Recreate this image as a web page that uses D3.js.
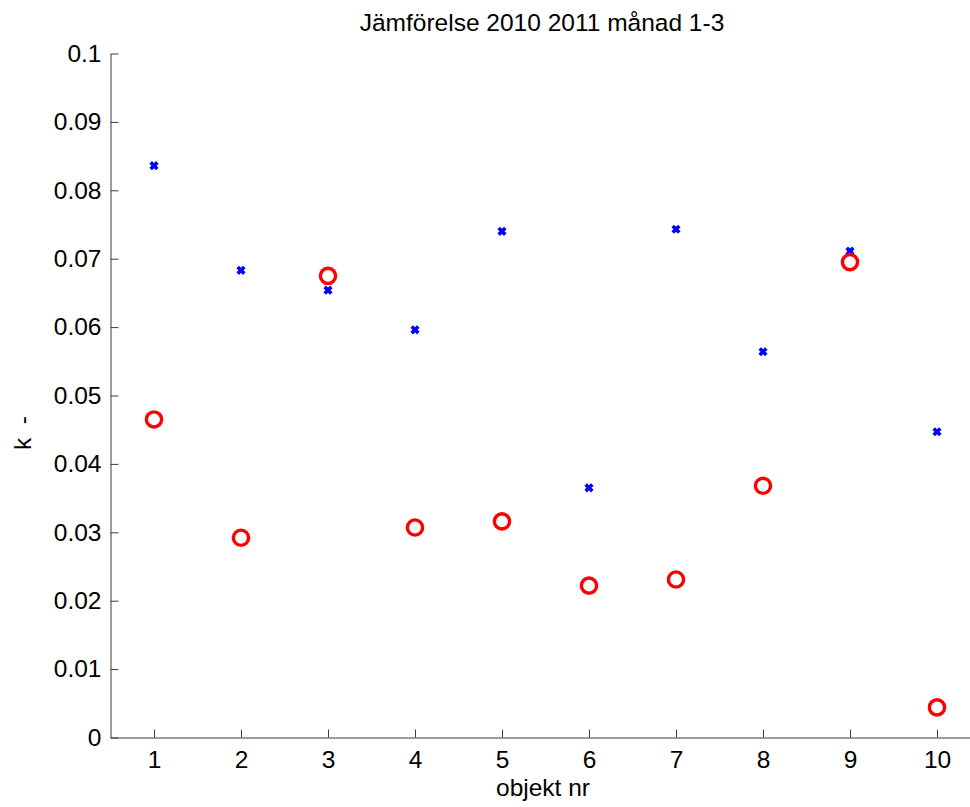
<!DOCTYPE html>
<html><head><meta charset="utf-8">
<script src="https://cdn.jsdelivr.net/npm/d3@7"></script>
<style>body{margin:0;background:#fff}svg{display:block;font-family:"Liberation Sans",Arial,sans-serif}</style>
</head><body><svg id="c" width="970" height="807"></svg>
<script>
const objekt = [1,2,3,4,5,6,7,8,9,10];
const series2010 = [0.0836,0.0683,0.0654,0.0596,0.0740,0.0365,0.0743,0.0564,0.0711,0.0447];
const series2011 = [0.0465,0.0292,0.0675,0.0307,0.0316,0.0222,0.0231,0.0368,0.0695,0.0044];
const xTicks = [1,2,3,4,5,6,7,8,9,10];
const yTicks = [0,0.01,0.02,0.03,0.04,0.05,0.06,0.07,0.08,0.09,0.1];
const yTickLabels = ["0","0.01","0.02","0.03","0.04","0.05","0.06","0.07","0.08","0.09","0.1"];

const svg = d3.select("#c");
const x = d3.scaleLinear().domain([0.5,10.5]).range([110.5,980.5]);
const y = d3.scaleLinear().domain([0,0.1]).range([737.5,53.5]);
const fs = 24.5;
const axisCol = "#3c3c3c";

const xa = svg.append("g").attr("transform","translate(0,737.5)")
  .call(d3.axisBottom(x).tickValues(xTicks).tickSize(-8).tickPadding(13).tickSizeOuter(0));
const ya = svg.append("g").attr("transform","translate(110.5,0)")
  .call(d3.axisLeft(y).tickValues(yTicks).tickFormat((d,i)=>yTickLabels[i]).tickSize(-8).tickPadding(9).tickSizeOuter(0));
[xa,ya].forEach(a=>{
  a.select(".domain").attr("stroke",axisCol).attr("stroke-width",1);
  a.selectAll(".tick line").attr("stroke",axisCol);
  a.selectAll("text").attr("fill","#000").style("font-size",fs+"px").style("font-family","'Liberation Sans',Arial,sans-serif");
});
xa.selectAll("text").attr("dy","0.71em");

svg.append("g").selectAll("path").data(objekt).join("path")
  .attr("d",(d,i)=>{const cx=x(d),cy=y(series2010[i]),s=3.3;return `M${cx-s},${cy-s}L${cx+s},${cy+s}M${cx-s},${cy+s}L${cx+s},${cy-s}`;})
  .attr("stroke","#0000ff").attr("stroke-width",3.6).attr("fill","none");

svg.append("g").selectAll("circle").data(objekt).join("circle")
  .attr("cx",d=>x(d)).attr("cy",(d,i)=>y(series2011[i])).attr("r",7.6)
  .attr("fill","none").attr("stroke","#ff0000").attr("stroke-width",3.4);

svg.append("text").attr("x",542).attr("y",31).attr("text-anchor","middle")
  .style("font-size",fs+"px").text("Jämförelse 2010 2011 månad 1-3");
svg.append("text").attr("x",543).attr("y",796).attr("text-anchor","middle")
  .style("font-size",fs+"px").text("objekt nr");
svg.append("text").attr("transform","translate(31,433) rotate(-90)").attr("text-anchor","middle")
  .style("font-size",fs+"px").attr("xml:space","preserve").style("white-space","pre").text("k  -");
</script></body></html>
